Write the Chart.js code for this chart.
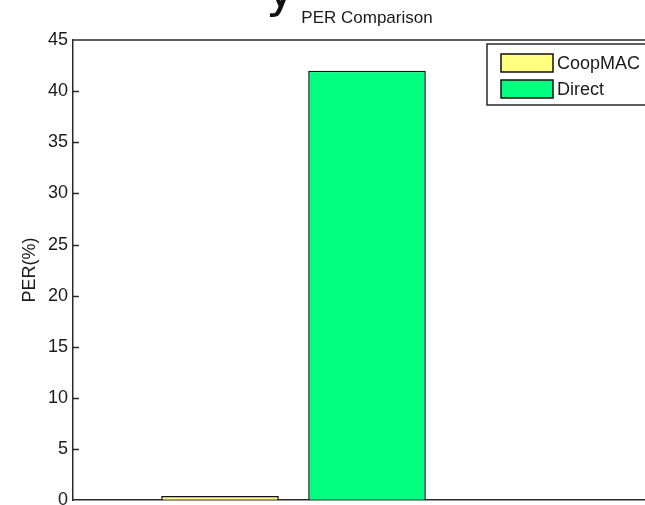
<!DOCTYPE html>
<html>
<head>
<meta charset="utf-8">
<script src="https://cdn.jsdelivr.net/npm/chart.js@4.4.1/dist/chart.umd.min.js"></script>
<style>
  html, body { margin: 0; padding: 0; background: #fff; overflow: hidden; }
  #wrap { position: relative; width: 645px; height: 505px; overflow: hidden; }
  #chart { position: absolute; left: 0; top: 0; }
  #caption { position: absolute; left: 266px; top: -35px; font: 50px/50px "DejaVu Sans", sans-serif; color: #111; }
</style>
</head>
<body>
<div id="wrap">
  <div id="caption">y</div>
  <canvas id="chart" width="680" height="516"></canvas>
</div>
<script>
// Packet error rate per scheme, in percent
const seriesNames = ['CoopMAC', 'Direct'];
const perValues = [0.4, 42];
const barSlots = [1, 2];            // slot on the x axis where each bar sits
const xSlots = ['0', '1', '2', '3', '4'];
const seriesColors = ['#FFFF80', '#00FF80'];
const yTicks = [0, 5, 10, 15, 20, 25, 30, 35, 40, 45];

const FONT = '"Liberation Sans", Arial, sans-serif';
const INK = '#1a1a1a';
const AXIS = '#2a2a2a';

const datasets = seriesNames.map((name, i) => ({
  label: name,
  data: xSlots.map((_, k) => (k === barSlots[i] ? perValues[i] : null)),
  backgroundColor: seriesColors[i],
  borderColor: '#111',
  borderWidth: 1.5,
  borderSkipped: 'bottom',
  skipNull: true,
  categoryPercentage: 1,
  barPercentage: 0.8
}));

// Closed box around the plot plus inward tick marks on both vertical sides
const boxPlugin = {
  id: 'box',
  afterDatasetsDraw(chart) {
    const { ctx, chartArea: a, scales } = chart;
    ctx.save();
    ctx.strokeStyle = AXIS;
    ctx.lineWidth = 1.5;
    ctx.beginPath();
    ctx.moveTo(a.left, a.top); ctx.lineTo(a.right, a.top);
    ctx.moveTo(a.right, a.top); ctx.lineTo(a.right, a.bottom);
    ctx.stroke();
    ctx.beginPath();
    yTicks.forEach(v => {
      if (v === 0 || v === 45) return;
      const y = Math.round(scales.y.getPixelForValue(v)) + 0.5;
      ctx.moveTo(a.left, y); ctx.lineTo(a.left + 6, y);
      ctx.moveTo(a.right, y); ctx.lineTo(a.right - 6, y);
    });
    ctx.stroke();
    ctx.restore();
  },
  afterDraw(chart) {
    // legend box in the upper right corner of the plot
    const { ctx, chartArea: a } = chart;
    const ds = chart.data.datasets;
    const w = 168, rowH = 26;
    const x0 = a.right - 6 - w, y0 = a.top + 4;
    const h = 61;
    ctx.save();
    ctx.fillStyle = '#fff';
    ctx.fillRect(x0, y0, w, h);
    ctx.strokeStyle = AXIS;
    ctx.lineWidth = 1.5;
    ctx.strokeRect(x0, y0, w, h);
    ctx.font = '18px ' + FONT;
    ctx.textBaseline = 'middle';
    ds.forEach((d, i) => {
      const sy = y0 + 10 + i * rowH;
      ctx.fillStyle = d.backgroundColor;
      ctx.fillRect(x0 + 14, sy, 52, 18);
      ctx.strokeStyle = '#111';
      ctx.lineWidth = 1.5;
      ctx.strokeRect(x0 + 14, sy, 52, 18);
      ctx.fillStyle = INK;
      ctx.fillText(d.label, x0 + 70, sy + 10);
    });
    ctx.restore();
  }
};

new Chart(document.getElementById('chart'), {
  type: 'bar',
  data: { labels: xSlots, datasets },
  plugins: [boxPlugin],
  options: {
    responsive: false,
    animation: false,
    devicePixelRatio: 1,
    layout: { padding: { top: 0, right: 19, bottom: 5, left: 0 } },
    plugins: {
      legend: { display: false },
      tooltip: { enabled: false },
      title: {
        display: true,
        text: 'PER Comparison',
        fullSize: false,
        color: INK,
        font: { family: FONT, size: 17, weight: 'normal', lineHeight: 1.2 },
        padding: { top: 8, bottom: 11.6 }
      }
    },
    scales: {
      x: {
        type: 'category',
        offset: false,
        grid: { display: true, drawOnChartArea: false, drawTicks: false, offset: false },
        border: { display: true, color: AXIS, width: 1.5 },
        ticks: { display: false },
        afterFit(s) { s.height = 0; }
      },
      y: {
        min: 0,
        max: 45,
        afterBuildTicks(s) { s.ticks = yTicks.map(v => ({ value: v })); },
        grid: { display: true, drawOnChartArea: false, drawTicks: false },
        border: { display: true, color: AXIS, width: 1.5 },
        ticks: { color: INK, padding: 5, font: { family: FONT, size: 18 } },
        title: {
          display: true,
          text: 'PER(%)',
          color: INK,
          font: { family: FONT, size: 18, lineHeight: 1.2 },
          padding: { top: 19, bottom: 0 }
        },
        afterFit(s) { s.width = 73; }
      }
    }
  }
});
</script>
</body>
</html>
